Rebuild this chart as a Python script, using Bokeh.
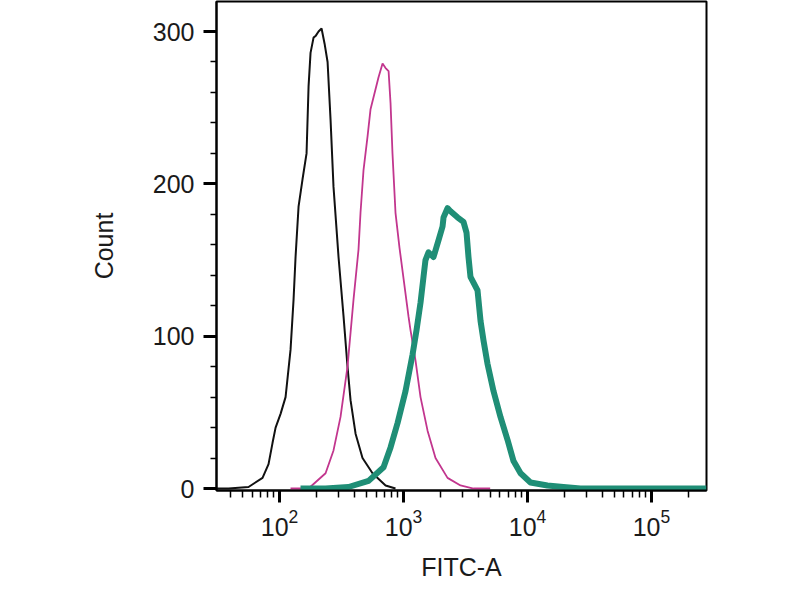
from bokeh.plotting import figure
from bokeh.models import Range1d, FixedTicker
from bokeh.embed import file_html
from bokeh.resources import INLINE

# --- data (FITC-A intensity, event count) ---
ctrl_x = [31.0, 38.8, 56.2, 72.9, 81.5, 87.8, 92.9, 101.9, 111.8, 122.6, 129.7, 134.6,
          142.3, 153.2, 165.1, 171.4, 177.8, 188.0, 195.0, 206.3, 218.2, 230.8, 244.0,
          257.9, 272.4, 299.0, 328.2, 353.3, 373.8, 410.3, 466.8, 562.3, 716.6, 861.5]
ctrl_y = [0, 0, 1, 7, 16, 30, 40, 49, 60, 91, 124, 152,
          185, 203, 220, 264, 286, 296, 297, 300, 302, 292, 280,
          242, 198, 152, 113, 80, 58, 36, 20, 10, 2, 0]

mag_x = [122.6, 171.4, 235.0, 272.4, 310.3, 353.3, 395.0, 433.5, 449.8, 475.6, 512.4,
         541.9, 628.6, 677.3, 716.6, 757.6, 785.7, 814.5, 861.5, 928.1, 1096.8, 1138.2,
         1249.7, 1371.1, 1562.4, 1811.2, 2264.6, 2882.3, 3670.0, 5000.0]
mag_y = [0, 0, 10, 25, 47, 80, 124, 157, 181, 209, 231,
         249, 270, 279, 276, 274, 253, 220, 181, 158, 113, 104,
         84, 60, 38, 20, 7, 2, 0, 0]

teal_x = [147.6, 235.0, 359.9, 522.5, 689.9, 785.7, 895.3, 1038.1, 1182.7, 1273.6,
          1371.1, 1449.7, 1503.4, 1590.7, 1746.1, 1916.6, 2064.2, 2102.9, 2264.6, 2394.2,
          2723.3, 3045.6, 3221.2, 3341.9, 3467.4, 3953.9, 4180.9, 4420.9, 4754.0, 5317.9,
          6053.3, 6899.9, 7713.7, 8790.2, 10574, 14488, 19498, 26731, 277900]
teal_y = [0, 0, 1, 5, 14, 27, 43, 64, 88, 104,
          122, 139, 150, 155, 152, 163, 172, 178, 184, 182,
          178, 175, 168, 152, 139, 130, 110, 97, 82, 64,
          47, 32, 18, 10, 4, 2, 1, 0, 0]

x_major = [1e2, 1e3, 1e4, 1e5]
x_minor = [k * 10 ** d for d in range(1, 6) for k in range(2, 10)]
y_major = [0, 100, 200, 300]
y_minor = list(range(20, 320, 20))

p = figure(width=784, height=584, x_axis_type="log",
           x_range=Range1d(31, 2.779e5), y_range=Range1d(-1.3, 319.7),
           output_backend="svg", toolbar_location=None,
           min_border_left=216, min_border_right=78,
           min_border_top=1, min_border_bottom=94)
p.grid.visible = False
p.background_fill_color = "white"
p.border_fill_color = "white"
p.outline_line_color = "black"
p.outline_line_width = 2

p.line(ctrl_x, ctrl_y, line_color="#111111", line_width=2)
p.line(mag_x, mag_y, line_color="#c2368e", line_width=1.8)
p.line(teal_x, teal_y, line_color="#1f8e76", line_width=6, line_join="round")

p.xaxis.ticker = FixedTicker(ticks=x_major, minor_ticks=x_minor)
p.yaxis.ticker = FixedTicker(ticks=y_major, minor_ticks=y_minor)

for ax in (p.xaxis[0], p.yaxis[0]):
    ax.axis_line_color = "black"
    ax.axis_line_width = 2
    ax.major_tick_line_color = "black"
    ax.minor_tick_line_color = "black"
    ax.major_tick_line_width = 3
    ax.minor_tick_line_width = 1.5
    ax.major_tick_in = 0
    ax.minor_tick_in = 0
    ax.major_label_text_font = "Liberation Sans"
    ax.major_label_text_font_size = "25px"
    ax.major_label_text_color = "#1a1a1a"
    ax.axis_label_text_font = "Liberation Sans"
    ax.axis_label_text_font_size = "25px"
    ax.axis_label_text_font_style = "normal"
    ax.axis_label_text_color = "#1a1a1a"

p.xaxis.major_tick_out = 12
p.xaxis.minor_tick_out = 7
p.xaxis.major_label_standoff = 6
p.xaxis.axis_label = "FITC-A"
p.xaxis.axis_label_standoff = 14

p.yaxis.major_tick_out = 13
p.yaxis.minor_tick_out = 6
p.yaxis.major_label_standoff = 9
p.yaxis.axis_label = "Count"
p.yaxis.axis_label_standoff = 32

open("out.html", "w").write(file_html(p, INLINE))
